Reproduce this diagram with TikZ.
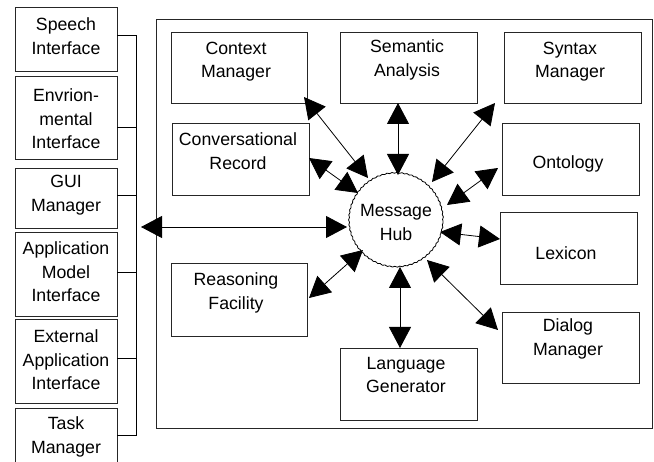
\documentclass[tikz,border=0pt]{standalone}
\usepackage{fontspec}
\setmainfont{Liberation Sans}
\usetikzlibrary{arrows.meta,decorations.pathmorphing}
\tikzset{
  box/.style={draw=black!85, line width=0.9pt, rectangle, inner sep=0pt},
  lbox/.style={box, minimum width=102pt},
  ibox/.style={box, minimum width=137pt, minimum height=72pt},
  txt/.style={align=center, font=\fontsize{17.7}{23.5}\selectfont, inner sep=0pt},
  link/.style={line width=0.8pt, {Triangle[length=21pt,width=22pt]}-{Triangle[length=21pt,width=22pt]}},
  busline/.style={line width=0.9pt},
  hubshape/.style={circle, minimum size=94pt, inner sep=0pt, draw, line width=0.8pt,
    decorate, decoration={snake, segment length=5pt, amplitude=0.45pt}}
}
\begin{document}
\begin{tikzpicture}[x=1pt,y=-1pt]
\useasboundingbox (0,0) rectangle (654,462);
\clip (0,0) rectangle (654,462);
% left column
\node[lbox, minimum height=64pt] (sp) at (66,39) {};
\node[lbox, minimum height=83pt] (env) at (66,117.5) {};
\node[lbox, minimum height=60pt] (gui) at (66,198) {};
\node[lbox, minimum height=84pt] (amod) at (66,274) {};
\node[lbox, minimum height=84pt] (ext) at (66,361) {};
\node[lbox, minimum height=70pt] (task) at (66,443) {};
\node[txt] (spt) at (66,36) {Speech\\Interface};
\node[txt] (envt) at (66,119) {Envrion-\\mental\\Interface};
\node[txt] (guit) at (66,195) {GUI\\Manager};
\node[txt] (amodt) at (66,272) {Application\\Model\\Interface};
\node[txt] (extt) at (66,360) {External\\Application\\Interface};
\node[txt] (taskt) at (66,437) {Task\\Manager};
% bus
\coordinate (b1) at (136,35);
\coordinate (b2) at (136,127);
\coordinate (b3) at (136,195);
\coordinate (b4) at (136,272);
\coordinate (b5) at (136,358);
\coordinate (b6) at (136,435);
\draw[busline] (b1 -| sp.east) -- (b1) -- (b6) -- (b6 -| task.east);
\draw[busline] (b2 -| env.east) -- (b2);
\draw[busline] (b3 -| gui.east) -- (b3);
\draw[busline] (b4 -| amod.east) -- (b4);
\draw[busline] (b5 -| ext.east) -- (b5);
% frame
\node[box, minimum width=496pt, minimum height=409pt] (frame) at (404.25,223.5) {};
% inner boxes
\node[ibox, minimum width=136pt, minimum height=71pt] (cm) at (239,67.5) {};
\node[ibox, minimum height=71pt] (sa) at (408.5,67.5) {};
\node[ibox, minimum height=71pt] (sm) at (572.5,67.5) {};
\node[ibox] (cr) at (240.5,159) {};
\node[ibox] (on) at (570.5,159) {};
\node[ibox] (lx) at (568.5,248) {};
\node[ibox, minimum width=136pt, minimum height=73pt] (rf) at (239,299.5) {};
\node[ibox, minimum height=71pt] (dm) at (570.5,347.5) {};
\node[ibox] (lg) at (408.5,384) {};
\node[txt] (cmt) at (236,61.5) {Context\\Manager};
\node[txt] (sat) at (407,60) {Semantic\\Analysis};
\node[txt] (smt) at (570,61.5) {Syntax\\Manager};
\node[txt] (crt) at (238,151) {Conversational\\Record};
\node[txt] (ont) at (568,164) {Ontology};
\node[txt] (lxt) at (566,253) {Lexicon};
\node[txt] (rft) at (236,293) {Reasoning\\Facility};
\node[txt] (dmt) at (568,339) {Dialog\\Manager};
\node[txt] (lgt) at (406,375) {Language\\Generator};
% hub
\node[hubshape] (hub) at (396,221) {};
\node[txt] (hubt) at (396,222.5) {Message\\Hub};
% connector end points
\coordinate (c1) at (304,97);  \coordinate (h1) at (368,178);
\coordinate (c2) at (398,103); \coordinate (h2) at (398,175);
\coordinate (c3) at (495,103); \coordinate (h3) at (432,182);
\coordinate (c4) at (309,158); \coordinate (h4) at (358,193);
\coordinate (c5) at (498,168); \coordinate (h5) at (447,205);
\coordinate (c6) at (500,239); \coordinate (h6) at (440,232);
\coordinate (c7) at (309,298); \coordinate (h7) at (363,250);
\coordinate (c8) at (400,348); \coordinate (h8) at (400,267);
\coordinate (c9) at (498,330); \coordinate (h9) at (427,260);
\coordinate (c10) at (141,227); \coordinate (h10) at (347,227);
\draw[link] (c1) -- (h1);
\draw[link] (c2) -- (h2);
\draw[link] (c3) -- (h3);
\draw[link] (c4) -- (h4);
\draw[link] (c5) -- (h5);
\draw[link] (c6) -- (h6);
\draw[link] (c7) -- (h7);
\draw[link] (c8) -- (h8);
\draw[link] (c9) -- (h9);
\draw[link] (c10) -- (h10);
\end{tikzpicture}
\end{document}
